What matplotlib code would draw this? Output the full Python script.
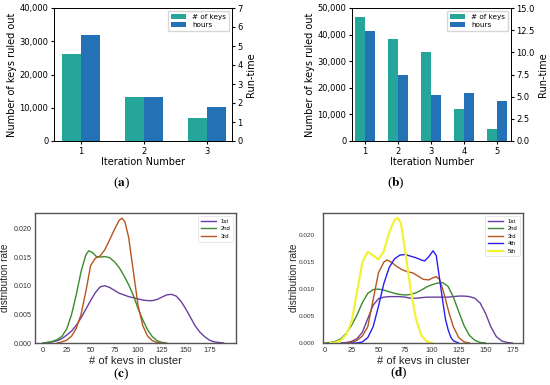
"""
Figura compuesta: llaves descartadas por iteracion y distribucion de llaves por cluster
"""
import matplotlib.pyplot as plt
from matplotlib.ticker import StrMethodFormatter, MultipleLocator
import numpy as np

# ---- datos de los paneles (a) y (b) ----
iter_a = [1, 2, 3]
keys_a = [26300, 13300, 6900]
hours_a = [5.6, 2.3, 1.78]

iter_b = [1, 2, 3, 4, 5]
keys_b = [46800, 38300, 33500, 12000, 4500]
hours_b = [12.45, 7.4, 5.2, 5.4, 4.5]

# ---- curvas de densidad, panel (c) ----
c1_x = [0, 5, 10, 15, 20, 25, 30, 35, 40, 45, 50, 55, 60, 65, 70, 75, 80, 85, 90, 95, 100,
        105, 110, 115, 120, 125, 130, 135, 140, 145, 150, 155, 160, 165, 170, 175, 180, 185, 190]
c1_y = [0.0000, 0.0001, 0.0002, 0.0004, 0.0008, 0.0014, 0.0021, 0.0031, 0.0044, 0.0059, 0.0074,
        0.0088, 0.0098, 0.0100, 0.0097, 0.0092, 0.0087, 0.0084, 0.0081, 0.0079, 0.0077, 0.0075,
        0.0074, 0.0074, 0.0076, 0.0080, 0.0084, 0.0085, 0.0082, 0.0073, 0.0060, 0.0045, 0.0030,
        0.0019, 0.0011, 0.0005, 0.0002, 0.0001, 0.0000]

c2_x = [0, 5, 10, 15, 20, 25, 30, 35, 40, 45, 48, 52, 56, 60, 65, 70, 75, 80, 85, 90, 95, 100,
        105, 110, 115, 120, 125, 130]
c2_y = [0.0000, 0.0001, 0.0003, 0.0006, 0.0012, 0.0025, 0.0050, 0.0085, 0.0125, 0.0154, 0.0161,
        0.0158, 0.0151, 0.0150, 0.0151, 0.0149, 0.0142, 0.0132, 0.0118, 0.0102, 0.0083, 0.0060,
        0.0040, 0.0023, 0.0011, 0.0004, 0.0001, 0.0000]

c3_x = [15, 20, 25, 30, 35, 40, 45, 50, 55, 60, 65, 70, 75, 80, 83, 86, 90, 95, 100, 105, 110,
        115, 120, 125]
c3_y = [0.0000, 0.0002, 0.0005, 0.0012, 0.0026, 0.0050, 0.0090, 0.0135, 0.0148, 0.0152, 0.0163,
        0.0180, 0.0198, 0.0214, 0.0218, 0.0212, 0.0185, 0.0125, 0.0065, 0.0030, 0.0012, 0.0004,
        0.0001, 0.0000]

# ---- curvas de densidad, panel (d) ----
d1_x = [15, 20, 25, 30, 35, 40, 45, 50, 55, 60, 65, 70, 75, 80, 85, 90, 95, 100, 105, 110, 115,
        120, 125, 130, 135, 140, 145, 150, 155, 160, 165, 170, 175]
d1_y = [0.0000, 0.0001, 0.0003, 0.0008, 0.0020, 0.0045, 0.0070, 0.0082, 0.0085, 0.0086, 0.0086,
        0.0086, 0.0085, 0.0083, 0.0083, 0.0084, 0.0085, 0.0085, 0.0085, 0.0085, 0.0085, 0.0086,
        0.0087, 0.0087, 0.0086, 0.0083, 0.0074, 0.0055, 0.0030, 0.0012, 0.0004, 0.0001, 0.0000]

d2_x = [0, 5, 10, 15, 20, 25, 30, 35, 40, 45, 50, 55, 60, 65, 70, 75, 80, 85, 90, 95, 100, 105,
        110, 115, 120, 125, 130, 135, 140, 145, 150]
d2_y = [0.0000, 0.0001, 0.0003, 0.0008, 0.0018, 0.0033, 0.0052, 0.0075, 0.0092, 0.0099, 0.0100,
        0.0098, 0.0095, 0.0092, 0.0090, 0.0089, 0.0090, 0.0093, 0.0098, 0.0104, 0.0108, 0.0111,
        0.0112, 0.0105, 0.0085, 0.0058, 0.0032, 0.0014, 0.0005, 0.0001, 0.0000]

d3_x = [20, 25, 30, 35, 40, 45, 50, 55, 58, 62, 67, 72, 77, 82, 87, 92, 97, 101, 104, 107, 110,
        113, 116, 120, 125, 130, 135]
d3_y = [0.0000, 0.0001, 0.0005, 0.0013, 0.0030, 0.0080, 0.0130, 0.0150, 0.0154, 0.0150, 0.0142,
        0.0136, 0.0132, 0.0130, 0.0124, 0.0118, 0.0117, 0.0121, 0.0123, 0.0118, 0.0100, 0.0078,
        0.0055, 0.0030, 0.0010, 0.0002, 0.0000]

d4_x = [25, 30, 35, 40, 45, 50, 55, 60, 65, 70, 75, 80, 85, 90, 93, 97, 101, 104, 107, 110,
        112.5, 115, 117.5, 120, 125]
d4_y = [0.0000, 0.0000, 0.0002, 0.0010, 0.0030, 0.0068, 0.0110, 0.0140, 0.0156, 0.0163, 0.0164,
        0.0161, 0.0158, 0.0154, 0.0152, 0.0160, 0.0171, 0.0162, 0.0120, 0.0078, 0.0045, 0.0025,
        0.0011, 0.0004, 0.0000]

d5_x = [5, 10, 15, 20, 25, 30, 35, 40, 45, 50, 55, 60, 65, 68, 71, 75, 80, 85, 90, 95, 100]
d5_y = [0.0000, 0.0001, 0.0005, 0.0016, 0.0040, 0.0095, 0.0150, 0.0169, 0.0162, 0.0155, 0.0170,
        0.0205, 0.0228, 0.0232, 0.0222, 0.0170, 0.0100, 0.0045, 0.0014, 0.0003, 0.0000]

etiquetas = ['1st', '2nd', '3rd', '4th', '5th']
colores = ['#6b3fa0', '#3c8a2e', '#b5561f', '#2b1ef0', '#f2f23a']

COLOR_KEYS = '#26a69a'
COLOR_HOURS = '#2471b5'

fig = plt.figure(figsize=(5.5, 3.85), dpi=100)
W, H = 550.0, 385.0


def caja(x0, y0, x1, y1):
    """Convierte una caja en pixeles (arriba-izquierda) a fracciones de figura"""
    return [x0 / W, 1 - y1 / H, (x1 - x0) / W, (y1 - y0) / H]


def panel_barras(rect, iters, keys, hours, ymax, hmax, hstep, xlim):
    ax = fig.add_axes(rect)
    x = np.array(iters)
    b1 = ax.bar(x - 0.15, keys, 0.3, color=COLOR_KEYS, label='# of keys')
    ax.set_ylim(0, ymax)
    ax.set_xlim(*xlim)
    ax.set_xticks(iters)
    ax.yaxis.set_major_formatter(StrMethodFormatter('{x:,.0f}'))
    ax.set_xlabel('Iteration Number', fontsize=7, labelpad=1)
    ax.set_ylabel('Number of keys ruled out', fontsize=7, labelpad=2)
    ax.tick_params(labelsize=6, length=2.5, pad=1.5)

    ax2 = ax.twinx()
    b2 = ax2.bar(x + 0.15, hours, 0.3, color=COLOR_HOURS, label='hours')
    ax2.set_ylim(0, hmax)
    ax2.yaxis.set_major_locator(MultipleLocator(hstep))
    ax2.set_ylabel('Run-time', fontsize=7, labelpad=2)
    ax2.tick_params(labelsize=6, length=2.5, pad=1.5)
    ax2.legend([b1, b2], ['# of keys', 'hours'], loc='upper right', fontsize=5.2,
               handlelength=2.2, borderpad=0.4, labelspacing=0.35, borderaxespad=0.4)
    for a in (ax, ax2):
        for s in a.spines.values():
            s.set_linewidth(0.7)
    return ax


def panel_densidad(rect, curvas, xlim, ylim, label_x, tick_fs, tick_pad):
    ax = fig.add_axes(rect)
    for i, (xs, ys) in enumerate(curvas):
        lw = 1.6 if i == 4 else 1.0
        ax.plot(xs, ys, color=colores[i], lw=lw, label=etiquetas[i])
    ax.set_xlim(*xlim)
    ax.set_ylim(*ylim)
    ax.set_xticks(range(0, 176, 25))
    ax.set_yticks([0, 0.005, 0.010, 0.015, 0.020])
    ax.yaxis.set_major_formatter(StrMethodFormatter('{x:.3f}'))
    ax.tick_params(axis='x', labelsize=5.4, length=0, pad=3, colors='#333333')
    ax.tick_params(axis='y', labelsize=tick_fs, length=0, pad=tick_pad, colors='#333333')
    ax.set_xlabel('# of kevs in cluster', fontsize=8, labelpad=1, color='#262626')
    ax.set_ylabel('distribution rate', fontsize=7.2, color='#262626')
    ax.yaxis.set_label_coords(label_x, 0.5)
    for s in ax.spines.values():
        s.set_color('#555555')
        s.set_linewidth(1.0)
    leg = ax.legend(loc='upper right', fontsize=4.2, handlelength=2.6,
                    borderpad=0.5, labelspacing=0.4, handletextpad=0.8, frameon=True)
    leg.get_frame().set_edgecolor('#dddddd')
    leg.get_frame().set_linewidth(0.6)
    return ax


# Paneles superiores con barras dobles
panel_barras(caja(54, 8, 232, 141), iter_a, keys_a, hours_a, 40000, 7, 1, (0.57, 3.40))
panel_barras(caja(352, 8, 511, 141), iter_b, keys_b, hours_b, 50000, 15, 2.5, (0.6, 5.43))

# Paneles inferiores con densidades
plt.rcParams['font.family'] = ['Liberation Sans', 'DejaVu Sans']
panel_densidad(caja(35, 213, 236, 343),
               [(c1_x, c1_y), (c2_x, c2_y), (c3_x, c3_y)], (-8.5, 203), (0, 0.0227),
               -0.125, 5.1, 2.5)
panel_densidad(caja(323, 213, 523, 343),
               [(d1_x, d1_y), (d2_x, d2_y), (d3_x, d3_y), (d4_x, d4_y), (d5_x, d5_y)],
               (-1.8, 185), (0, 0.0241), -0.122, 4.6, 6)

# Subtitulos de cada panel
plt.rcParams['mathtext.fontset'] = 'stix'
for letra, px, py in [('a', 121, 183), ('b', 396, 183), ('c', 121, 374), ('d', 399, 373)]:
    fig.text(px / W, 1 - py / H, r'($\mathbf{%s}$)' % letra, fontsize=9.5,
             ha='center', va='center', family='Liberation Serif')

plt.savefig('out.png', dpi=100)
